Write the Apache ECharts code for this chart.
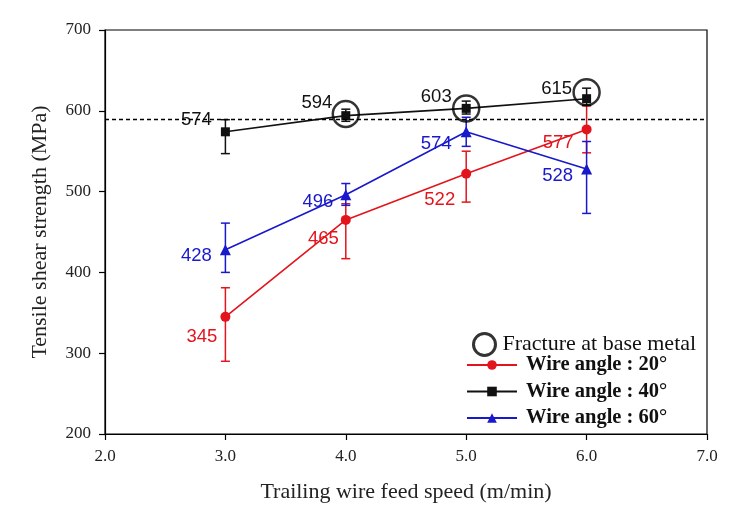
<!DOCTYPE html>
<html><head><meta charset="utf-8">
<script src="https://cdn.jsdelivr.net/npm/echarts@6/dist/echarts.min.js"></script>
<style>html,body{margin:0;padding:0;background:#fff}#c{width:737px;height:514px}</style>
</head><body><div id="c"></div>
<script>
// ---- data ----
const speeds = [3, 4, 5, 6];
const angle20 = [345, 465, 522, 577];
const angle20Low = [290, 417, 487, 548];
const angle20High = [381, 485, 550, 606];
const angle40 = [574, 594, 603, 615];
const angle40Low = [547, 587, 596, 607];
const angle40High = [589, 602, 612, 628];
const angle60 = [428, 496, 574, 528];
const angle60Low = [400, 483, 556, 473];
const angle60High = [461, 510, 592, 562];
const fractureSpeeds = [4, 5, 6];
const fractureValues = [596, 603, 623];
const baseMetalLine = 590;
const xTicks = [2, 3, 4, 5, 6, 7];
const yTicks = [200, 300, 400, 500, 600, 700];

// ---- style (label placement) ----
const lab20 = [[3, 20], [2, 19], [6, 26], [8, 14]];
const lab40 = [[9, -12], [9, -13], [10, -11], [10, -10]];
const lab60 = [[8, 6], [7, 7], [9, 12], [8, 7]];

const RED = '#e3141c', BLACK = '#111111', BLUE = '#1818cc';
const SERIF = 'Liberation Serif, Times New Roman, serif';

function pts(vals, labs) {
  return speeds.map((s, i) => ({
    value: [s, vals[i]],
    label: { distance: labs[i][0], offset: [0, labs[i][1]] }
  }));
}
function errs(low, high) { return speeds.map((s, i) => [s, low[i], high[i]]); }

function errSeries(name, low, high, color) {
  return {
    type: 'custom', name: name + ' err', silent: true, z: 3,
    data: errs(low, high),
    renderItem: function (params, api) {
      const lo = api.coord([api.value(0), api.value(1)]);
      const hi = api.coord([api.value(0), api.value(2)]);
      const w = 4.5;
      const st = { stroke: color, lineWidth: 1.5 };
      return { type: 'group', children: [
        { type: 'line', shape: { x1: lo[0], y1: lo[1], x2: hi[0], y2: hi[1] }, style: st },
        { type: 'line', shape: { x1: lo[0] - w, y1: lo[1], x2: lo[0] + w, y2: lo[1] }, style: st },
        { type: 'line', shape: { x1: hi[0] - w, y1: hi[1], x2: hi[0] + w, y2: hi[1] }, style: st }
      ]};
    }
  };
}
function lineSeries(name, vals, labs, color, symbol, size) {
  return {
    type: 'line', name: name, data: pts(vals, labs), z: 4,
    symbol: symbol, symbolSize: size, color: color,
    lineStyle: { color: color, width: 1.6 },
    itemStyle: { color: color },
    label: { show: true, position: 'left', color: color,
      fontFamily: 'Liberation Sans, Arial, sans-serif', fontSize: 18.5,
      formatter: p => String(p.value[1]) }
  };
}

const s40 = lineSeries('Wire angle : 40°', angle40, lab40, BLACK, 'rect', 9);
s40.markLine = {
  silent: true, symbol: 'none', label: { show: false },
  lineStyle: { color: '#000', type: [4, 3], width: 1.3 },
  data: [{ yAxis: baseMetalLine }]
};

const chart = echarts.init(document.getElementById('c'));
chart.setOption({
  animation: false,
  backgroundColor: '#fff',
  grid: { left: 105, right: 30, top: 30, bottom: 80, show: true, borderColor: '#000', borderWidth: 1.2 },
  xAxis: {
    type: 'value', min: xTicks[0], max: xTicks[xTicks.length - 1], interval: 1,
    name: 'Trailing wire feed speed (m/min)', nameLocation: 'middle', nameGap: 47,
    nameTextStyle: { fontFamily: SERIF, fontSize: 22, color: '#222' },
    axisLine: { lineStyle: { color: '#000', width: 1.2 } },
    axisTick: { length: 6, lineStyle: { color: '#000', width: 1.2 } },
    axisLabel: { formatter: v => v.toFixed(1), fontFamily: SERIF, fontSize: 17, color: '#222', margin: 14 },
    splitLine: { show: false }
  },
  yAxis: {
    type: 'value', min: yTicks[0], max: yTicks[yTicks.length - 1], interval: 100,
    name: 'Tensile shear strength (MPa)', nameLocation: 'middle', nameGap: 54,
    nameTextStyle: { fontFamily: SERIF, fontSize: 22, color: '#222' },
    axisLine: { show: true, lineStyle: { color: '#000', width: 1.2 } },
    axisTick: { show: true, length: 6, lineStyle: { color: '#000', width: 1.2 } },
    axisLabel: { fontFamily: SERIF, fontSize: 17, color: '#222', margin: 14 },
    splitLine: { show: false }
  },
  legend: [
    {
      data: [{ name: 'Fracture at base metal', icon: 'circle',
        itemStyle: { color: 'rgba(0,0,0,0)', borderColor: '#000', borderWidth: 3 } }],
      left: 472, top: 332, padding: 0, itemWidth: 24, itemHeight: 22, itemGap: 4,
      textStyle: { fontFamily: SERIF, fontSize: 22, color: '#111', padding: [0, 0, 0, 1] }
    },
    {
      data: ['Wire angle : 20°', 'Wire angle : 40°', 'Wire angle : 60°'],
      orient: 'vertical', left: 466, top: 354.5, padding: 0, itemWidth: 50, itemHeight: 12, itemGap: 5.5,
      textStyle: { fontFamily: SERIF, fontSize: 20.5, fontWeight: 'bold', color: '#111', padding: [0, 0, 0, 4] }
    }
  ],
  series: [
    errSeries('20', angle20Low, angle20High, RED),
    errSeries('40', angle40Low, angle40High, BLACK),
    errSeries('60', angle60Low, angle60High, BLUE),
    lineSeries('Wire angle : 20°', angle20, lab20, RED, 'circle', 10),
    s40,
    lineSeries('Wire angle : 60°', angle60, lab60, BLUE, 'triangle', 11),
    {
      type: 'scatter', name: 'Fracture at base metal', z: 5,
      data: fractureSpeeds.map((s, i) => [s, fractureValues[i]]),
      symbol: 'circle', symbolSize: 26,
      itemStyle: { color: 'rgba(0,0,0,0)', borderColor: '#000', borderWidth: 2.5 }
    }
  ]
});
</script></body></html>
